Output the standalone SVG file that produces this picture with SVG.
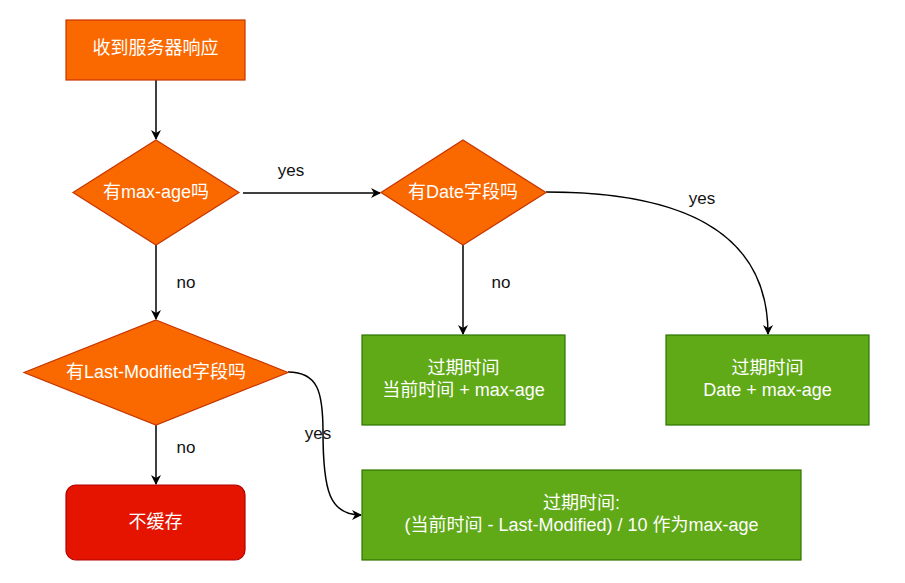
<svg xmlns="http://www.w3.org/2000/svg" width="905" height="583" viewBox="0 0 905 583">
<defs>
<marker id="arr" viewBox="0 0 10 10" refX="9" refY="5" markerWidth="10" markerHeight="10" markerUnits="userSpaceOnUse" orient="auto">
<path d="M0,0 L10,5 L0,10 L3,5 Z" fill="#000"/>
</marker>
<style>
.orange{fill:#fa6800;stroke:#c73500;stroke-width:1.2}
.green{fill:#60a917;stroke:#2d7600;stroke-width:1.2}
.red{fill:#e51400;stroke:#b20000;stroke-width:1.2}
.t{font-family:"Liberation Sans","Noto Sans CJK SC",sans-serif;font-size:18px;fill:#fff;text-anchor:middle;dominant-baseline:central}
.lbl{font-family:"Liberation Sans","Noto Sans CJK SC",sans-serif;font-size:17px;fill:#111;text-anchor:middle;dominant-baseline:central}
.e{fill:none;stroke:#000;stroke-width:1.5;marker-end:url(#arr)}
</style>
</defs>
<rect width="905" height="583" fill="#fff"/>
<g id="connectors">
<path class="e" d="M156,80 L156,139"/>
<path class="e" d="M243,193 L380,193"/>
<path class="e" d="M156,245 L156,319"/>
<path class="e" d="M463,245 L463,334"/>
<path class="e" d="M546,192 C680,192 768,230 768,334"/>
<path class="e" d="M156,425 L156,484"/>
<path class="e" d="M288,372 C318,372 323,392 323,432 C323,492 330,515 361,515"/>
<text class="lbl" x="291" y="170">yes</text>
<text class="lbl" x="186" y="282">no</text>
<text class="lbl" x="501" y="282">no</text>
<text class="lbl" x="702" y="198">yes</text>
<text class="lbl" x="186" y="447">no</text>
<text class="lbl" x="318" y="433">yes</text>
</g>
<g id="n1"><rect class="orange" x="66" y="20" width="179" height="60"/><text class="t" x="155.5" y="48">收到服务器响应</text></g>
<g id="n2"><polygon class="orange" points="156,140 239,192.5 156,245 73,192.5"/><text class="t" x="156" y="192">有max-age吗</text></g>
<g id="n3"><polygon class="orange" points="463,140 546,192.5 463,245 381,192.5"/><text class="t" x="463" y="192">有Date字段吗</text></g>
<g id="n4"><polygon class="orange" points="156,320 288,372.5 156,425 24,372.5"/><text class="t" x="156" y="372">有Last-Modified字段吗</text></g>
<g id="n5"><rect class="green" x="362" y="335" width="203" height="90"/><text class="t" x="463.5" y="368">过期时间</text><text class="t" x="463.5" y="390">当前时间 + max-age</text></g>
<g id="n6"><rect class="green" x="666" y="335" width="203" height="90"/><text class="t" x="767.5" y="368">过期时间</text><text class="t" x="767.5" y="390">Date + max-age</text></g>
<g id="n7"><rect class="red" x="66" y="485" width="179" height="75" rx="10"/><text class="t" x="155.5" y="522">不缓存</text></g>
<g id="n8"><rect class="green" x="362" y="470" width="439" height="90"/><text class="t" x="581.5" y="503">过期时间:</text><text class="t" x="581.5" y="525">(当前时间 - Last-Modified) / 10 作为max-age</text></g>
</svg>
